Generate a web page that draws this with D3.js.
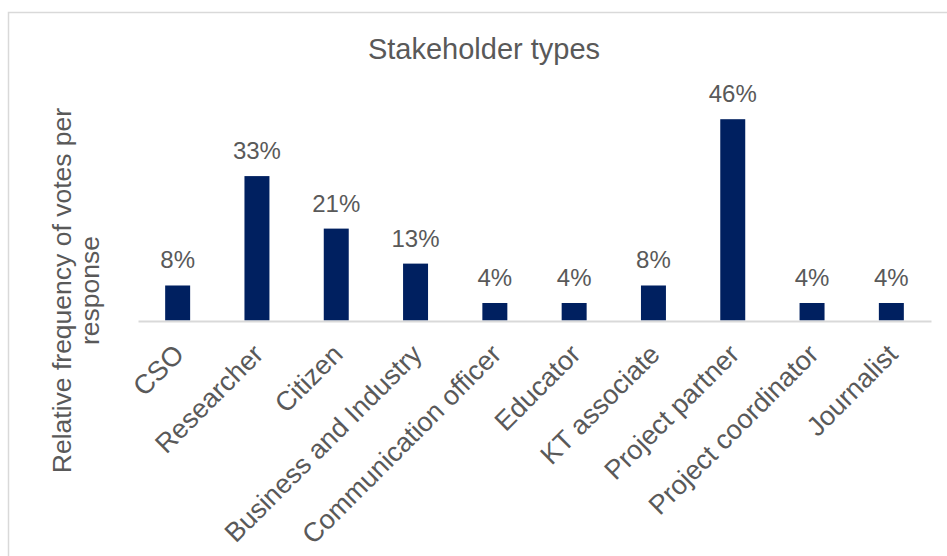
<!DOCTYPE html>
<html>
<head>
<meta charset="utf-8">
<script src="https://cdn.jsdelivr.net/npm/d3@7"></script>
<style>
  html, body { margin: 0; padding: 0; background: #fff; }
  svg { display: block; }
  text { font-family: "Liberation Sans", Arial, sans-serif; fill: #595959; }
</style>
</head>
<body>
<svg id="chart" width="947" height="556"></svg>
<script>
// Stakeholder types and their share of votes per response
const categories = [
  "CSO", "Researcher", "Citizen", "Business and Industry",
  "Communication officer", "Educator", "KT associate",
  "Project partner", "Project coordinator", "Journalist"
];
const shares = [0.08, 0.33, 0.21, 0.13, 0.04, 0.04, 0.08, 0.46, 0.04, 0.04];
const chartTitle = "Stakeholder types";
const yTitleLines = ["Relative frequency of votes per", "response"];

const svg = d3.select("#chart");
const W = 947, H = 556;

// chart area frame
svg.append("rect")
  .attr("x", 8.5).attr("y", 12.5)
  .attr("width", W + 20).attr("height", H + 20)
  .attr("fill", "none")
  .attr("stroke", "#d9d9d9")
  .attr("stroke-width", 1.5);

const plot = { left: 138, right: 931, base: 320.5 };

const x = d3.scaleBand()
  .domain(categories)
  .range([plot.left, plot.right])
  .paddingInner(0.685)
  .paddingOuter(0.3425);

const y = d3.scaleLinear()
  .domain([0, 0.5])
  .range([plot.base, plot.base - 0.5 * 437.6]);

// title
svg.append("text")
  .attr("x", 484).attr("y", 59)
  .attr("text-anchor", "middle")
  .style("font-size", "29px")
  .text(chartTitle);

// bars
svg.append("g").selectAll("rect")
  .data(categories)
  .join("rect")
  .attr("x", d => x(d))
  .attr("width", x.bandwidth())
  .attr("y", (d, i) => y(shares[i]))
  .attr("height", (d, i) => y(0) - y(shares[i]))
  .attr("fill", "#002060");

// value labels
const fmt = d3.format(".0%");
svg.append("g").selectAll("text")
  .data(categories)
  .join("text")
  .attr("x", d => x(d) + x.bandwidth() / 2)
  .attr("y", (d, i) => y(shares[i]) - 17)
  .attr("text-anchor", "middle")
  .style("font-size", "24px")
  .text((d, i) => fmt(shares[i]));

// category axis
const xAxis = svg.append("g")
  .attr("transform", `translate(0,${plot.base + 0.5})`)
  .call(d3.axisBottom(x).tickSize(0).tickPadding(0));
xAxis.select(".domain").attr("stroke", "#d9d9d9").attr("stroke-width", 2);
xAxis.selectAll(".tick text")
  .attr("text-anchor", "end")
  .attr("fill", "#595959")
  .style("font-size", "27px")
  .attr("dy", 0)
  .attr("transform", "translate(8,35) rotate(-45)");

// vertical axis title
const yt = svg.append("text")
  .attr("transform", "translate(71,290.5) rotate(-90)")
  .attr("text-anchor", "middle")
  .style("font-size", "26.5px");
yt.selectAll("tspan")
  .data(yTitleLines)
  .join("tspan")
  .attr("x", 0)
  .attr("dy", (d, i) => i === 0 ? 0 : 28)
  .text(d => d);
</script>
</body>
</html>
